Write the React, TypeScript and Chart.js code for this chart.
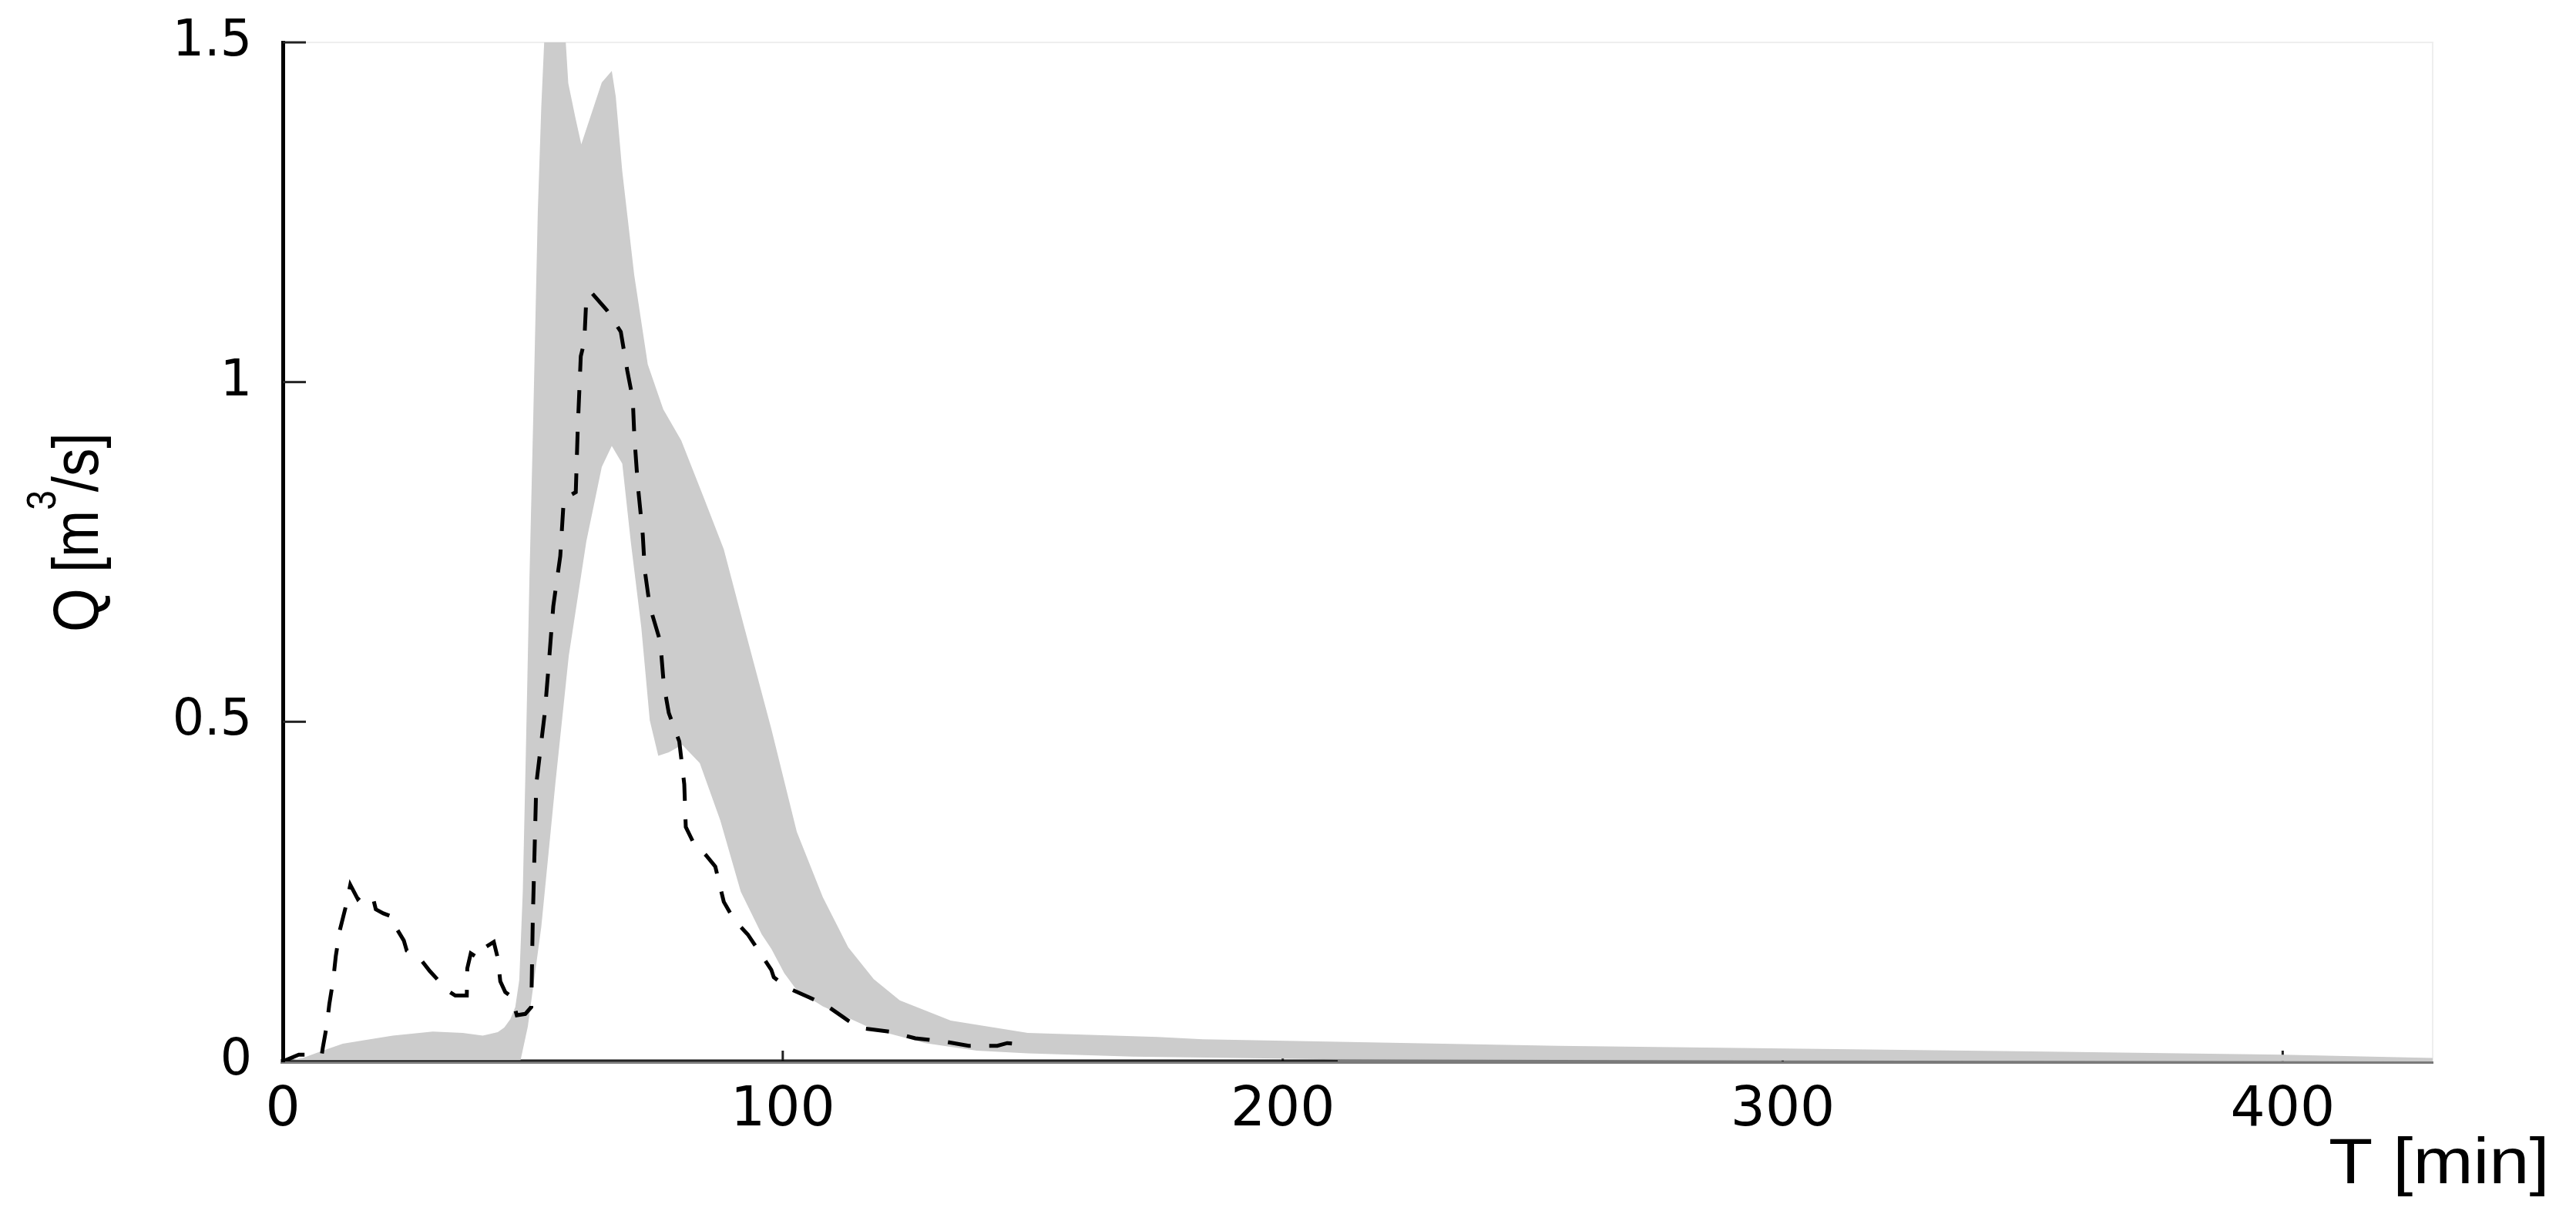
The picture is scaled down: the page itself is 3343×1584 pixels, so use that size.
import React, { useEffect, useRef } from "react";
import { Chart, registerables } from "chart.js";

Chart.register(...registerables);

// ---------- data ----------
const xTicks = [0, 100, 200, 300, 400];
const yTicks = [0, 0.5, 1, 1.5];
const xTitle = "T [min]";
const yTitleMain = "Q [m";
const yTitleSup = "3";
const yTitleEnd = "/s]";

// upper bound of the grey uncertainty band
const upperT = [0, 4, 8, 12, 16, 22, 30, 36, 40, 43, 44.3, 45.5, 46.5, 47.3, 48.0, 48.6, 49.3, 50.1, 51.0, 51.7, 52.4, 53.5, 55.5, 56.6, 57.1, 58.5, 59.7, 61.5, 63.8, 65.8, 66.6, 67.9, 70.3, 73.0, 76.1, 79.7, 84.3, 88.2, 92.3, 97.7, 102.8, 108.0, 113.1, 118.2, 123.4, 133.6, 149.0, 175.0, 184.0, 255.0, 350.0, 400.0, 430.0];
const upperQ = [0, 0.005, 0.016, 0.026, 0.031, 0.038, 0.044, 0.042, 0.038, 0.043, 0.05, 0.062, 0.08, 0.12, 0.25, 0.45, 0.7, 0.95, 1.25, 1.405, 1.52, 1.62, 1.62, 1.5, 1.44, 1.39, 1.35, 1.39, 1.441, 1.458, 1.42, 1.31, 1.157, 1.026, 0.96, 0.914, 0.828, 0.754, 0.639, 0.49, 0.338, 0.242, 0.168, 0.121, 0.09, 0.06, 0.042, 0.036, 0.0325, 0.023, 0.0147, 0.0098, 0.005];

// lower bound of the grey uncertainty band
const lowerT = [0, 47.5, 49.0, 51.7, 54.5, 57.2, 60.7, 63.8, 65.8, 67.9, 69.6, 71.7, 73.4, 75.1, 77.2, 79.9, 83.4, 87.5, 91.6, 95.8, 97.7, 100.3, 102.8, 108.0, 118.2, 128.5, 138.8, 149.0, 170.0, 211.0, 300.0, 430.0];
const lowerQ = [0, 0, 0.051, 0.198, 0.408, 0.597, 0.765, 0.875, 0.906, 0.88, 0.765, 0.639, 0.502, 0.45, 0.455, 0.466, 0.439, 0.355, 0.25, 0.187, 0.166, 0.13, 0.105, 0.081, 0.047, 0.027, 0.016, 0.012, 0.007, 0.003, 0.0015, 0];

// observed discharge (dashed)
const obsT = [0, 3.2, 7.8, 8.0, 8.8, 9.3, 10.1, 10.6, 11.4, 12.7, 13.5, 15.0, 16.0, 18.1, 18.6, 20.1, 22.2, 22.4, 24.2, 24.8, 27.8, 29.4, 33.0, 34.5, 36.8, 36.9, 37.6, 39.1, 40.7, 42.2, 43.0, 43.5, 44.5, 45.8, 46.8, 48.5, 49.7, 50.0, 50.7, 52.4, 53.1, 54.1, 55.5, 56.2, 58.6, 59.0, 59.6, 60.3, 60.7, 61.7, 64.8, 67.6, 68.9, 70.0, 70.3, 71.0, 72.0, 72.4, 73.4, 75.5, 76.2, 77.2, 79.3, 80.3, 80.6, 82.0, 84.7, 86.5, 88.2, 90.3, 93.0, 95.8, 97.7, 98.2, 100.8, 105.4, 109.0, 113.1, 115.7, 121.3, 126.5, 132.6, 137.2, 142.9, 144.9, 148.0];
const obsQ = [0, 0.01, 0.01, 0.02, 0.053, 0.084, 0.121, 0.155, 0.193, 0.231, 0.26, 0.239, 0.246, 0.239, 0.224, 0.218, 0.212, 0.2, 0.178, 0.163, 0.148, 0.133, 0.104, 0.097, 0.097, 0.137, 0.159, 0.152, 0.169, 0.176, 0.152, 0.118, 0.102, 0.095, 0.068, 0.07, 0.08, 0.208, 0.408, 0.513, 0.576, 0.67, 0.744, 0.828, 0.838, 0.933, 1.038, 1.059, 1.122, 1.132, 1.106, 1.074, 1.017, 0.975, 0.922, 0.849, 0.775, 0.723, 0.67, 0.618, 0.555, 0.513, 0.471, 0.408, 0.345, 0.324, 0.303, 0.287, 0.235, 0.208, 0.187, 0.156, 0.135, 0.124, 0.109, 0.094, 0.081, 0.06, 0.049, 0.044, 0.034, 0.029, 0.023, 0.023, 0.027, 0.025];

// solid base line at zero
const zeroT = [0, 211];
const zeroQ = [0, 0];

// ---------- helpers ----------
const W = 3343;
const H = 1584;
const toXY = (xs: number[], ys: number[]) => xs.map((x, i) => ({ x, y: ys[i] }));

const decorPlugin = {
  id: "decor",
  beforeDatasetsDraw(chart: any) {
    const { ctx, chartArea, scales } = chart;
    const xs = scales.x;
    const ys = scales.y;
    ctx.save();
    // faint top and right frame
    ctx.strokeStyle = "#eeeeee";
    ctx.lineWidth = 2;
    ctx.beginPath();
    ctx.moveTo(chartArea.left, chartArea.top);
    ctx.lineTo(chartArea.right, chartArea.top);
    ctx.lineTo(chartArea.right, chartArea.bottom);
    ctx.stroke();
    // inward ticks
    ctx.strokeStyle = "#222";
    ctx.lineWidth = 3;
    yTicks.forEach((v) => {
      if (v === 0) return;
      const p = ys.getPixelForValue(v);
      ctx.beginPath();
      ctx.moveTo(chartArea.left, p);
      ctx.lineTo(chartArea.left + 30, p);
      ctx.stroke();
    });
    xTicks.forEach((v) => {
      if (v === 0) return;
      const p = xs.getPixelForValue(v);
      ctx.beginPath();
      ctx.moveTo(p, chartArea.bottom);
      ctx.lineTo(p, chartArea.bottom - 14);
      ctx.stroke();
    });
    ctx.restore();
  },
  afterDraw(chart: any) {
    const { ctx } = chart;
    ctx.save();
    ctx.fillStyle = "#000";
    ctx.textBaseline = "alphabetic";
    ctx.textAlign = "left";
    // x title
    ctx.save();
    ctx.translate(3022, 1535);
    ctx.scale(1.13, 1);
    ctx.font = '83px "Liberation Sans", Arial, sans-serif';
    ctx.fillText(xTitle, 0, 0);
    ctx.restore();
    // y title (rotated, with superscript)
    ctx.save();
    ctx.translate(127, 820);
    ctx.rotate(-Math.PI / 2);
    ctx.scale(1, 1.15);
    const mainFont = '73px "Liberation Sans", Arial, sans-serif';
    const supFont = '46px "Liberation Sans", Arial, sans-serif';
    ctx.font = mainFont;
    ctx.fillText(yTitleMain, 0, 0);
    let x = ctx.measureText(yTitleMain).width;
    ctx.font = supFont;
    ctx.fillText(yTitleSup, x, -48);
    x += ctx.measureText(yTitleSup).width;
    ctx.font = mainFont;
    ctx.fillText(yTitleEnd, x - 2, 0);
    ctx.restore();
    ctx.restore();
  },
};

export default function App() {
  const ref = useRef<HTMLCanvasElement>(null);
  useEffect(() => {
    const canvas = ref.current;
    if (!canvas) return;
    const chart = new Chart(canvas, {
      type: "line",
      data: {
        datasets: [
          {
            label: "upper",
            data: toXY(upperT, upperQ),
            borderWidth: 0,
            borderColor: "rgba(0,0,0,0)",
            backgroundColor: "#cccccc",
            fill: "+1",
            pointRadius: 0,
            tension: 0,
            order: 5,
          },
          {
            label: "lower",
            data: toXY(lowerT, lowerQ),
            borderWidth: 0,
            borderColor: "rgba(0,0,0,0)",
            backgroundColor: "#cccccc",
            fill: false,
            pointRadius: 0,
            tension: 0,
            order: 5,
          },
          {
            label: "zero",
            data: toXY(zeroT, zeroQ),
            borderWidth: 3,
            borderColor: "#000",
            fill: false,
            pointRadius: 0,
            tension: 0,
            order: 1,
          },
          {
            label: "observed",
            data: toXY(obsT, obsQ),
            borderWidth: 5,
            borderColor: "#000",
            borderDash: [30, 24],
            fill: false,
            pointRadius: 0,
            tension: 0,
            order: 0,
          },
        ],
      },
      options: {
        animation: false,
        responsive: false,
        devicePixelRatio: 1,
        events: [],
        layout: { padding: { left: 0, top: 55, right: 186, bottom: 0 } },
        plugins: {
          legend: { display: false },
          tooltip: { enabled: false },
        },
        scales: {
          x: {
            type: "linear",
            min: 0,
            max: 430,
            afterBuildTicks: (s: any) => {
              s.ticks = xTicks.map((v) => ({ value: v }));
            },
            afterFit: (s: any) => {
              s.height = 207;
              s.paddingLeft = 0;
              s.paddingRight = 0;
            },
            ticks: {
              autoSkip: false,
              maxRotation: 0,
              padding: 22,
              color: "#000",
              font: { family: '"DejaVu Sans", sans-serif', size: 71 },
              callback: (v: any) => String(v),
            },
            grid: { display: false, drawTicks: false },
            border: { display: true, color: "#7a7a7a", width: 6 },
          },
          y: {
            type: "linear",
            min: 0,
            max: 1.5,
            afterBuildTicks: (s: any) => {
              s.ticks = yTicks.map((v) => ({ value: v }));
            },
            afterFit: (s: any) => {
              s.width = 367;
              s.paddingTop = 0;
              s.paddingBottom = 0;
            },
            ticks: {
              padding: 40,
              color: "#000",
              font: { family: '"DejaVu Sans", sans-serif', size: 65 },
              callback: (v: any) => String(v),
            },
            grid: { display: false, drawTicks: false },
            border: { display: true, color: "#000", width: 5 },
          },
        },
      },
      plugins: [decorPlugin],
    } as any);
    return () => chart.destroy();
  }, []);
  return (
    <div style={{ position: "fixed", left: 0, top: 0, width: W, height: H, background: "#fff" }}>
      <canvas ref={ref} width={W} height={H} style={{ display: "block", width: W, height: H }} />
    </div>
  );
}
